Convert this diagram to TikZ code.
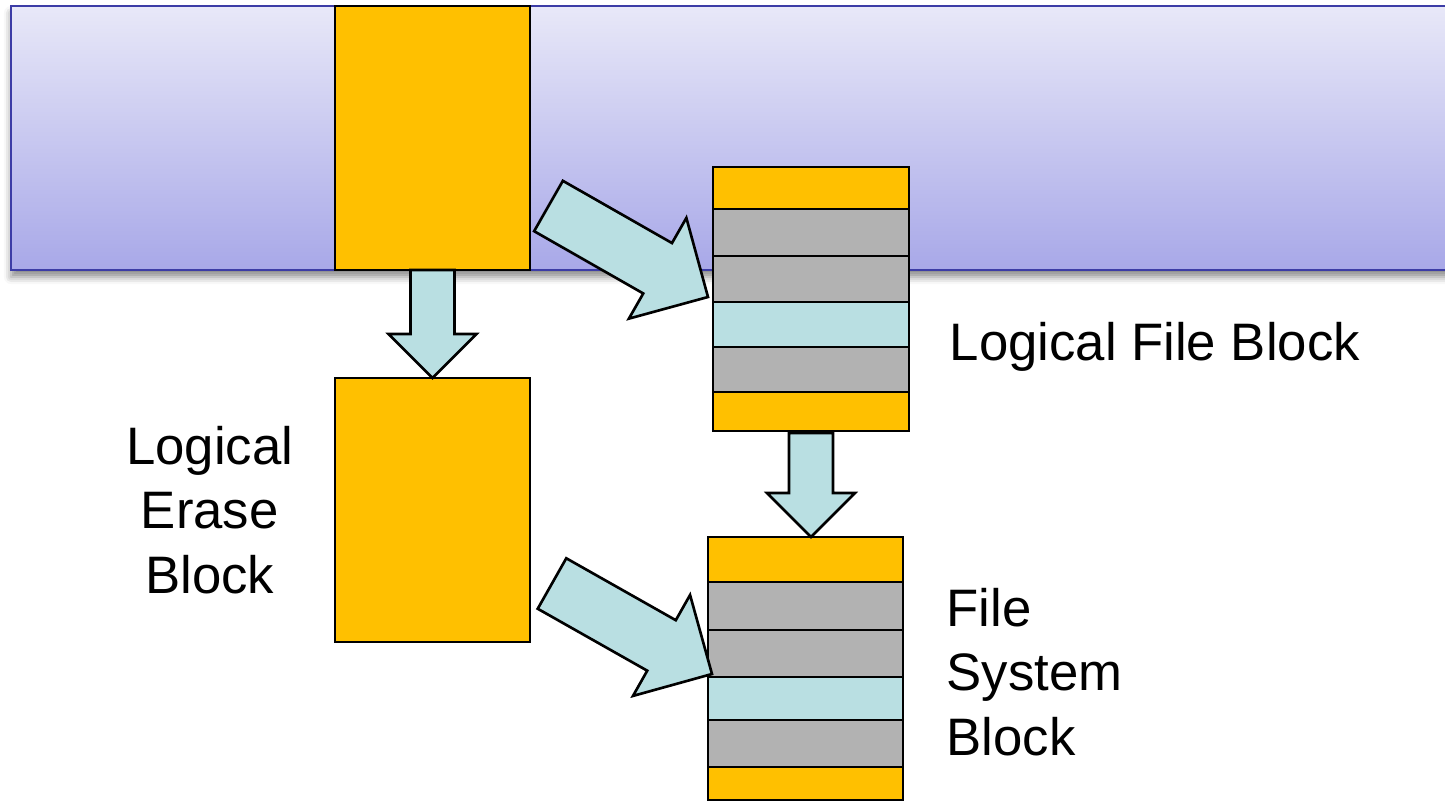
\documentclass[tikz,border=0pt]{standalone}
\usepackage{fontspec}
\setmainfont{Liberation Sans}
\usetikzlibrary{calc,positioning,shadows.blur}
\definecolor{blkorange}{HTML}{FFC000}
\definecolor{blkgray}{HTML}{B2B2B2}
\definecolor{blkcyan}{HTML}{B9DFE2}
\definecolor{bandtop}{HTML}{E8E8F8}
\definecolor{bandbot}{HTML}{A8A8E8}
\definecolor{bandline}{HTML}{3C3CA6}
% fat arrow from #1 to #2, shaft half width #3
\newcommand\fatarrow[3]{%
  \pgfmathsetlengthmacro\faw{#3}%
  \pgfmathsetlengthmacro\fah{2*#3}%
  \path ($(#2)!\fah!(#1)$) coordinate (hb);
  \draw[arrowbody] ($(#1)!\faw!90:(#2)$) -- ($(hb)!\faw!90:(#2)$) -- ($(hb)!\fah!90:(#2)$) -- (#2)
    -- ($(hb)!\fah!-90:(#2)$) -- ($(hb)!\faw!-90:(#2)$) -- ($(#1)!\faw!-90:(#2)$) -- cycle;
}
\begin{document}
\begin{tikzpicture}[line join=miter,font=\fontsize{15}{18.3}\selectfont,
    oblock/.style={draw,line width=0.75pt,fill=blkorange,minimum width=1.95cm,minimum height=2.64cm,inner sep=0pt,outer sep=0pt},
    stripe/.style={draw,line width=0.75pt,anchor=north,inner sep=0pt,outer sep=0pt},
    arrowbody/.style={draw,line width=0.75pt,fill=blkcyan},
    txt/.style={inner sep=0pt}]
    \useasboundingbox (0,0) rectangle (14.45,-8.02);
    % the band
    \draw[bandline,line width=0.6pt,top color=bandtop,bottom color=bandbot,
        blur shadow={shadow xshift=0pt,shadow yshift=-2pt,shadow blur radius=2pt,shadow opacity=45}]
        (0.11,-0.06) rectangle (14.7,-2.70);
    \node[oblock] (lebtop) at (4.325,-1.38) {};
    \node[oblock,below=1.08cm of lebtop] (leb) {};
    \node[txt,align=center,left=0.41cm of leb] {Logical\\Erase\\Block};
    % logical file block stack
    \foreach \i/\c/\ya/\yb in {1/blkorange/1.67/2.09,2/blkgray/2.09/2.56,3/blkgray/2.56/3.02,
        4/blkcyan/3.02/3.47,5/blkgray/3.47/3.92,6/blkorange/3.92/4.31}
        \node[stripe,fill=\c,minimum width=1.96cm,minimum height=\yb cm-\ya cm] (fb\i) at (8.11,-\ya) {};
    \node[txt,anchor=west] at (9.49,-3.47) {Logical File Block};
    % file system block stack
    \foreach \i/\c/\ya/\yb in {1/blkorange/5.37/5.82,2/blkgray/5.82/6.30,3/blkgray/6.30/6.77,
        4/blkcyan/6.77/7.20,5/blkgray/7.20/7.67,6/blkorange/7.67/8.00}
        \node[stripe,fill=\c,minimum width=1.95cm,minimum height=\yb cm-\ya cm] (fs\i) at (8.055,-\ya) {};
    \node[txt,anchor=west,align=left] at (9.46,-6.72) {File\\System\\Block};
    % arrows
    \coordinate (d1) at (5.485,-2.06);
    \coordinate (d2) at (5.52,-5.835);
    \fatarrow{lebtop.south}{leb.north}{0.22cm}
    \fatarrow{$(fb6.south)+(0,-0.02)$}{fb6.south |- fs1.north}{0.22cm}
    \fatarrow{d1}{$(fb4.north west)+(-0.05,0.05)$}{0.29cm}
    \fatarrow{d2}{$(fs4.north west)+(0.04,0.03)$}{0.29cm}
\end{tikzpicture}
\end{document}
